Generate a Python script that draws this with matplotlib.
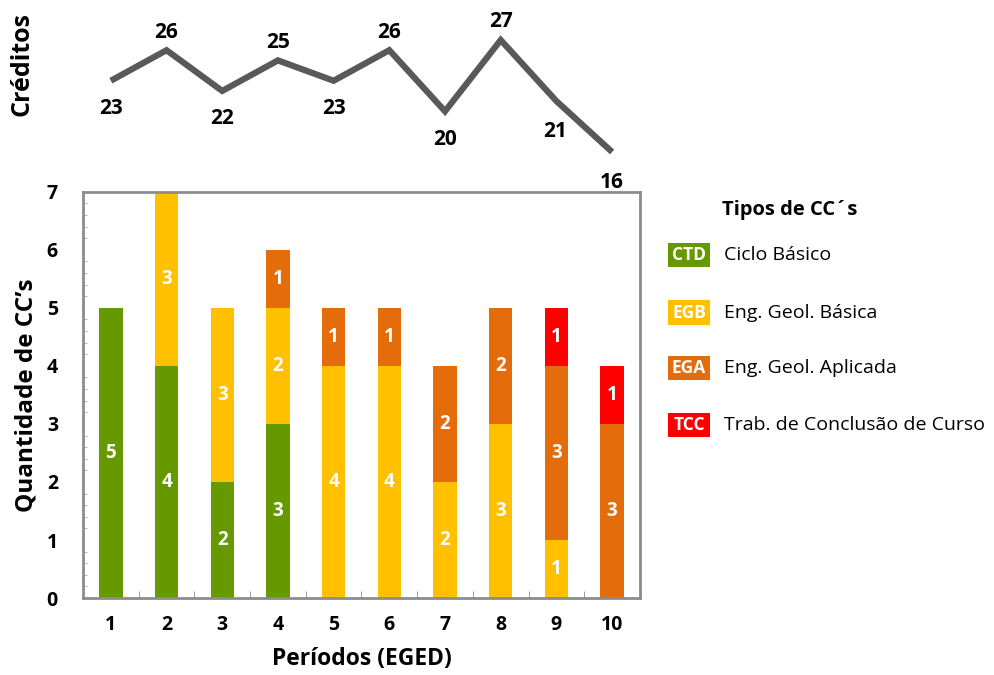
import matplotlib.pyplot as plt
from matplotlib.patches import Rectangle
from matplotlib.ticker import MultipleLocator, FixedLocator

plt.rcParams['font.family'] = ['Open Sans', 'DejaVu Sans']

periodos = [1, 2, 3, 4, 5, 6, 7, 8, 9, 10]
creditos = [23, 26, 22, 25, 23, 26, 20, 27, 21, 16]
# label above (+) or below (-) each point of the credits line
cred_pos = [-1, 1, -1, 1, -1, 1, -1, 1, -1, -1]

tipos = ['CTD', 'EGB', 'EGA', 'TCC']
nomes = ['Ciclo Básico', 'Eng. Geol. Básica', 'Eng. Geol. Aplicada', 'Trab. de Conclusão de Curso']
cores = ['#669900', '#FFC000', '#E46C0A', '#FF0000']
ctd = [5, 4, 2, 3, 0, 0, 0, 0, 0, 0]
egb = [0, 3, 3, 2, 4, 4, 2, 3, 1, 0]
ega = [0, 0, 0, 1, 1, 1, 2, 2, 3, 3]
tcc = [0, 0, 0, 0, 0, 0, 0, 0, 1, 1]
series = [ctd, egb, ega, tcc]

fig = plt.figure(figsize=(9.95, 6.75), dpi=100)

# main stacked bars
ax = fig.add_axes([0.0834, 0.114, 0.5598, 0.602])
bottom = [0] * len(periodos)
for vals, cor in zip(series, cores):
    ax.bar(periodos, vals, bottom=bottom, width=0.42, color=cor, zorder=2)
    for x, v, b in zip(periodos, vals, bottom):
        if v > 0:
            ax.text(x, b + v / 2, str(v), ha='center', va='center', color='white',
                    fontsize=13.5, fontweight='bold')
    bottom = [b + v for b, v in zip(bottom, vals)]

ax.set_xlim(0.5, 10.5)
ax.set_ylim(0, 7)
ax.set_xticks(periodos)
ax.set_xticklabels([str(p) for p in periodos], fontsize=14, fontweight='bold')
ax.xaxis.set_minor_locator(FixedLocator([p + 0.5 for p in periodos[:-1]]))
ax.tick_params(axis='x', which='major', length=0, pad=12)
ax.tick_params(axis='x', which='minor', direction='in', length=5, color='#888888')
ax.yaxis.set_major_locator(MultipleLocator(1))
ax.yaxis.set_minor_locator(MultipleLocator(0.2))
ax.tick_params(axis='y', which='major', direction='in', length=0, pad=18, labelsize=14)
ax.tick_params(axis='y', which='minor', direction='in', length=3, color='#aaaaaa')
for lab in ax.get_yticklabels():
    lab.set_fontweight('bold')
for sp in ax.spines.values():
    sp.set_color('#8c8c8c')
    sp.set_linewidth(2)
ax.set_xlabel('Períodos (EGED)', fontsize=16.5, fontweight='bold', labelpad=9)
ax.set_ylabel('Quantidade de CC’s', fontsize=17.5, fontweight='bold', labelpad=6)

# credits line on top
ax2 = fig.add_axes([0.0834, 0.7748, 0.5598, 0.1659])
ax2.plot(periodos, creditos, color='#595959', linewidth=4.5, solid_joinstyle='miter',
         solid_capstyle='butt', clip_on=False)
for x, c, p in zip(periodos, creditos, cred_pos):
    dy = 13 if p > 0 else -20
    dx = -1 if c == 21 else 0
    ax2.annotate(str(c), (x, c), xytext=(dx, dy - (2 if c in (21, 16) else 0)),
                 textcoords='offset points', ha='center', va='center',
                 fontsize=15, fontweight='bold')
ax2.set_xlim(0.5, 10.5)
ax2.set_ylim(16, 27)
ax2.axis('off')
fig.text(0.022, 0.905, 'Créditos', rotation=90, ha='center', va='center',
         fontsize=18, fontweight='bold')

# legend
fig.text(0.726, 0.689, 'Tipos de CC´s', ha='left', va='center', fontsize=14.5, fontweight='bold')
leg_y = [0.622, 0.537, 0.455, 0.370]
for t, n, c, y in zip(tipos, nomes, cores, leg_y):
    fig.patches.append(Rectangle((0.671, y - 0.018), 0.043, 0.036, transform=fig.transFigure,
                                 facecolor=c, edgecolor='none'))
    fig.text(0.6925, y, t, ha='center', va='center', color='white', fontsize=12.5,
             fontweight='bold')
    fig.text(0.728, y, n, ha='left', va='center', fontsize=14)

fig.savefig('out.png', dpi=100)
